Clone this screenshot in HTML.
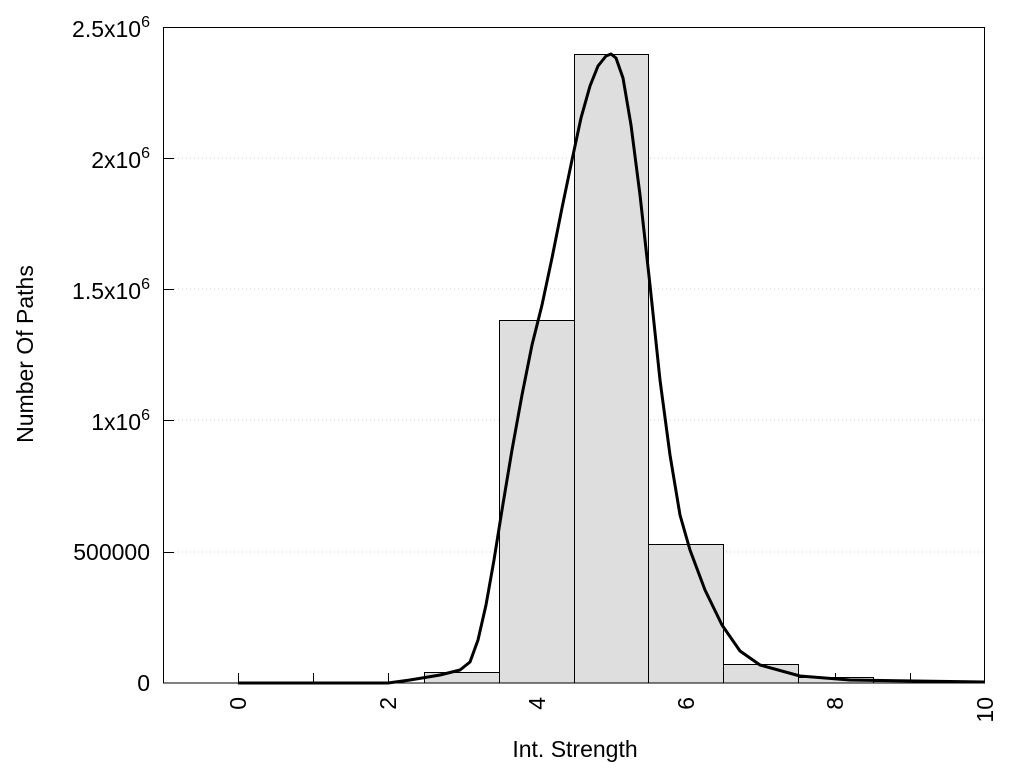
<!DOCTYPE html>
<html><head><style>body{margin:0;background:#fff}svg{display:block}text{font-family:"Liberation Sans",sans-serif;fill:#000}</style></head>
<body>
<svg width="1024" height="768" viewBox="0 0 1024 768">
<g stroke="#ccc" stroke-dasharray="1,3" stroke-width="1">
<line x1="174" y1="158" x2="985" y2="158"/><line x1="174" y1="289" x2="985" y2="289"/>
<line x1="174" y1="420" x2="985" y2="420"/><line x1="174" y1="552" x2="985" y2="552"/>
</g>
<g stroke="#000" stroke-width="1">
<line x1="238.5" y1="683" x2="238.5" y2="673"/><line x1="313.5" y1="683" x2="313.5" y2="673"/>
<line x1="388.5" y1="683" x2="388.5" y2="673"/><line x1="462.5" y1="683" x2="462.5" y2="673"/>
<line x1="537.5" y1="683" x2="537.5" y2="673"/><line x1="611.5" y1="683" x2="611.5" y2="673"/>
<line x1="686.5" y1="683" x2="686.5" y2="673"/><line x1="761.5" y1="683" x2="761.5" y2="673"/>
<line x1="835.5" y1="683" x2="835.5" y2="673"/><line x1="910.5" y1="683" x2="910.5" y2="673"/>
<line x1="163" y1="158.5" x2="174" y2="158.5"/><line x1="163" y1="289.5" x2="174" y2="289.5"/>
<line x1="163" y1="420.5" x2="174" y2="420.5"/><line x1="163" y1="552.5" x2="174" y2="552.5"/>
</g>
<g fill="#dedede" stroke="#000" stroke-width="1">
<rect x="424.5" y="672.5" width="75" height="10.5"/>
<rect x="499.5" y="320.5" width="75" height="362.5"/>
<rect x="574.5" y="54.5" width="74" height="628.5"/>
<rect x="648.5" y="544.5" width="75" height="138.5"/>
<rect x="723.5" y="664.5" width="75" height="18.5"/>
<rect x="798.5" y="677.5" width="75" height="5.5"/>
<rect x="873.5" y="681.5" width="75" height="1.5"/>
</g>
<rect x="163.5" y="27.5" width="821" height="655.5" fill="none" stroke="#000" stroke-width="1"/>
<polyline fill="none" stroke="#000" stroke-width="3" stroke-linejoin="round" points="238,683 388,683 410,680 440,675 460,670 470,662 478,640 486,605 494,560 502,510 512,450 522,395 532,345 542,305 552,258 562,208 572,160 581,118 590,86 598,66 606,56 611,54 616,58 623,78 631,125 640,195 650,285 660,380 670,455 680,515 690,550 705,590 722,625 740,651 760,665 800,676 850,680 985,682"/>
<g font-size="23" text-anchor="end">
<text x="150" y="37">2.5x10<tspan font-size="16" dy="-10">6</tspan></text>
<text x="150" y="168">2x10<tspan font-size="16" dy="-10">6</tspan></text>
<text x="150" y="299">1.5x10<tspan font-size="16" dy="-10">6</tspan></text>
<text x="150" y="430">1x10<tspan font-size="16" dy="-10">6</tspan></text>
<text x="150" y="560">500000</text>
<text x="150" y="691">0</text>
</g>
<g font-size="23" text-anchor="end">
<text transform="translate(246,697) rotate(-90)">0</text>
<text transform="translate(396,697) rotate(-90)">2</text>
<text transform="translate(545,697) rotate(-90)">4</text>
<text transform="translate(694,697) rotate(-90)">6</text>
<text transform="translate(843,697) rotate(-90)">8</text>
<text transform="translate(993,697) rotate(-90)">10</text>
</g>
<text x="575" y="757" font-size="23" text-anchor="middle">Int. Strength</text>
<text transform="translate(33,354) rotate(-90)" font-size="23" text-anchor="middle">Number Of Paths</text>
</svg>
</body></html>
